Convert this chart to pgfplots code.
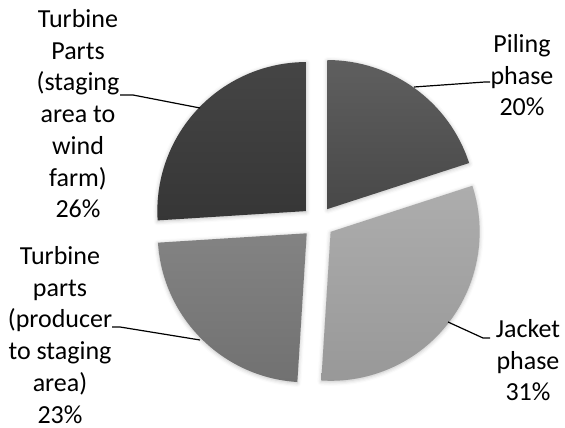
\documentclass[border=0pt]{standalone}
\usepackage{pgfplots}
\usepackage{pgfplotstable}
\pgfplotsset{compat=1.18}
\usepackage{fontspec}
\setmainfont{Carlito}
\usetikzlibrary{shadows.blur}
\definecolor{cPilingT}{HTML}{5F5F5F}
\definecolor{cPilingB}{HTML}{484848}
\definecolor{cJacketT}{HTML}{ADADAD}
\definecolor{cJacketB}{HTML}{989898}
\definecolor{cProducerT}{HTML}{838383}
\definecolor{cProducerB}{HTML}{717171}
\definecolor{cStagingT}{HTML}{454545}
\definecolor{cStagingB}{HTML}{363636}
\pgfplotstableread{
slice value
Piling 20
Jacket 31
Producer 23
Staging 26
}\piedata
\begin{document}
\begin{tikzpicture}
\pgfplotstablegetelem{0}{value}\of\piedata \pgfmathsetmacro\vA{\pgfplotsretval}
\pgfplotstablegetelem{1}{value}\of\piedata \pgfmathsetmacro\vB{\pgfplotsretval}
\pgfplotstablegetelem{2}{value}\of\piedata \pgfmathsetmacro\vC{\pgfplotsretval}
\pgfplotstablegetelem{3}{value}\of\piedata \pgfmathsetmacro\vD{\pgfplotsretval}
\pgfmathsetmacro\tot{\vA+\vB+\vC+\vD}
\pgfmathsetmacro\aA{90}
\pgfmathsetmacro\aB{\aA-360*\vA/\tot}
\pgfmathsetmacro\aC{\aB-360*\vB/\tot}
\pgfmathsetmacro\aD{\aC-360*\vC/\tot}
\pgfmathsetmacro\aE{\aD-360*\vD/\tot}
\def\cx{318}\def\cy{206}\def\ex{16}\def\R{149pt}
\pgfmathsetmacro\xA{\cx+\ex*cos((\aA+\aB)/2)}\pgfmathsetmacro\yA{\cy+\ex*sin((\aA+\aB)/2)}
\pgfmathsetmacro\xB{\cx+\ex*cos((\aB+\aC)/2)}\pgfmathsetmacro\yB{\cy+\ex*sin((\aB+\aC)/2)}
\pgfmathsetmacro\xC{\cx+\ex*cos((\aC+\aD)/2)}\pgfmathsetmacro\yC{\cy+\ex*sin((\aC+\aD)/2)}
\pgfmathsetmacro\xD{\cx+\ex*cos((\aD+\aE)/2)}\pgfmathsetmacro\yD{\cy+\ex*sin((\aD+\aE)/2)}
\begin{axis}[
  hide axis, x=1pt, y=1pt,
  xmin=0, xmax=565, ymin=0, ymax=428,
  clip=false,
]
\coordinate (SW) at (axis cs:0,0);
\coordinate (NE) at (axis cs:565,428);
\tikzset{sh/.style={blur shadow={shadow xshift=0pt, shadow yshift=-1pt, shadow blur radius=4pt, shadow opacity=25}}}
\path[top color=cPilingT, bottom color=cPilingB, sh] (axis cs:\xA,\yA) -- ++(\aA:\R) arc[start angle=\aA, end angle=\aB, radius=\R] -- cycle;
\path[top color=cJacketT, bottom color=cJacketB, sh] (axis cs:\xB,\yB) -- ++(\aB:\R) arc[start angle=\aB, end angle=\aC, radius=\R] -- cycle;
\path[top color=cProducerT, bottom color=cProducerB, sh] (axis cs:\xC,\yC) -- ++(\aC:\R) arc[start angle=\aC, end angle=\aD, radius=\R] -- cycle;
\path[top color=cStagingT, bottom color=cStagingB, sh] (axis cs:\xD,\yD) -- ++(\aD:\R) arc[start angle=\aD, end angle=\aE, radius=\R] -- cycle;
% leader lines
\draw[black, line width=1.2pt] (axis cs:120,333) -- (axis cs:133,333) -- (axis cs:200,320);
\draw[black, line width=1.2pt] (axis cs:112,101) -- (axis cs:120,101) -- (axis cs:200,88);
\draw[black, line width=1.2pt] (axis cs:414,341) -- (axis cs:485,346) -- (axis cs:490,346);
\draw[black, line width=1.2pt] (axis cs:448,106) -- (axis cs:483,90) -- (axis cs:490,90);
% labels
\tikzset{lab/.style={anchor=north, align=center, inner sep=0pt, font=\fontsize{26}{31.7}\selectfont, text=black}}
\node[lab] at (axis cs:78,418.7) {Turbine\\Parts\\(staging\\area to\\wind\\farm)\\26\%};
\node[lab] at (axis cs:60,181.7) {Turbine\\parts\\(producer\\to staging\\area)\\23\%};
\node[lab] at (axis cs:522,393.7) {Piling\\phase\\20\%};
\node[lab] at (axis cs:528,108.7) {Jacket\\phase\\31\%};
\end{axis}
\pgfresetboundingbox
\path[use as bounding box] (SW) rectangle (NE);
\end{tikzpicture}
\end{document}
